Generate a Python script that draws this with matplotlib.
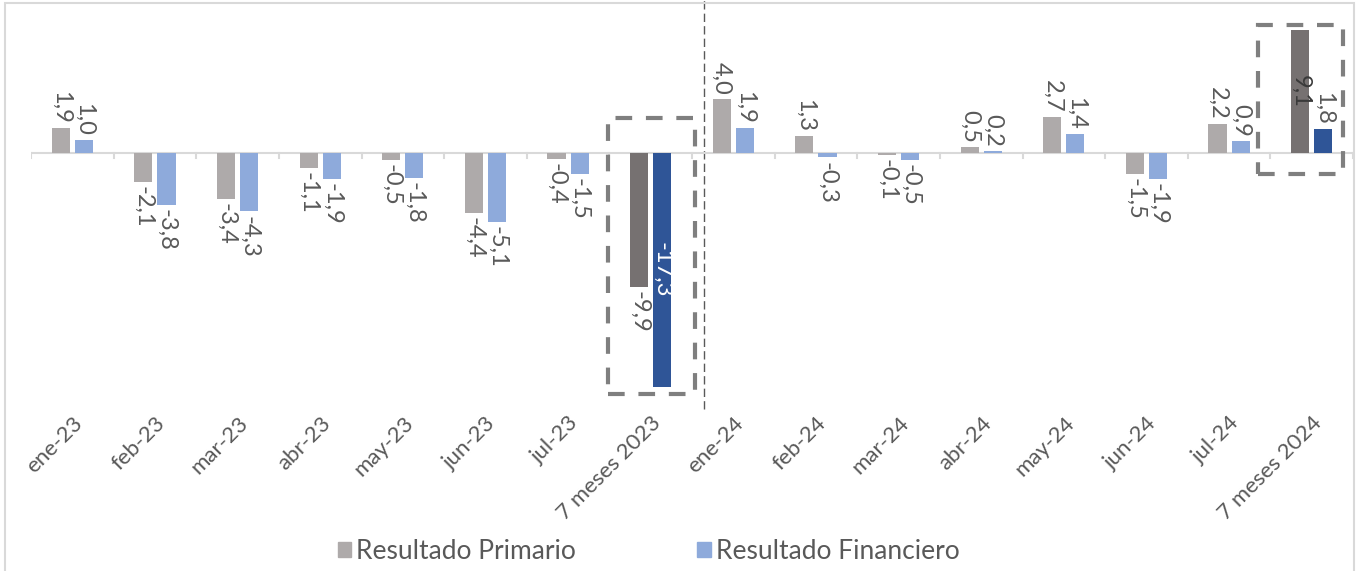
import matplotlib
matplotlib.use("Agg")
import matplotlib.pyplot as plt
from matplotlib.patches import Rectangle, Patch
import numpy as np

# datos (miles de millones)
categorias = ["ene-23", "feb-23", "mar-23", "abr-23", "may-23", "jun-23", "jul-23", "7 meses 2023",
              "ene-24", "feb-24", "mar-24", "abr-24", "may-24", "jun-24", "jul-24", "7 meses 2024"]
primario = [1.9, -2.1, -3.4, -1.1, -0.5, -4.4, -0.4, -9.9,
            4.0, 1.3, -0.1, 0.5, 2.7, -1.5, 2.2, 9.1]
financiero = [1.0, -3.8, -4.3, -1.9, -1.8, -5.1, -1.5, -17.3,
              1.9, -0.3, -0.5, 0.2, 1.4, -1.9, 0.9, 1.8]
acumulados = ["7 meses 2023", "7 meses 2024"]

col_prim = "#aeaaaa"
col_fin = "#8eaadb"
col_prim_osc = "#767171"
col_fin_osc = "#2f5597"
col_txt = "#595959"

plt.rcParams["font.family"] = ["Lato", "DejaVu Sans"]

fig = plt.figure(figsize=(13.6, 5.71), dpi=100)
ax = fig.add_axes([31 / 1360, 0.294, 1322 / 1360, 0.674])

x = np.arange(len(categorias))
w = 0.22
off = 0.14
fs_lab = 17

c_prim = [col_prim_osc if c in acumulados else col_prim for c in categorias]
c_fin = [col_fin_osc if c in acumulados else col_fin for c in categorias]

ax.bar(x - off, primario, w, color=c_prim, zorder=3)
ax.bar(x + off, financiero, w, color=c_fin, zorder=3)

ax.set_xlim(-0.5, len(categorias) - 0.5)
ax.set_ylim(-18.5, 10)

# eje cero con marcas
ax.axhline(0, color="#d9d9d9", lw=1.5, zorder=2)
for b in np.arange(-0.5, len(categorias) - 0.4, 1):
    ax.plot([b, b], [0, -0.35], color="#d9d9d9", lw=1.5, zorder=2)


def fmt(v):
    return f"{v:.1f}".replace(".", ",")


def etiqueta(xi, v, dentro=False, color=col_txt):
    if dentro:
        ax.text(xi, v / 2, fmt(v), rotation=270, ha="center", va="center",
                fontsize=fs_lab, color=color, zorder=4)
    elif v >= 0:
        ax.annotate(fmt(v), (xi, v), xytext=(0, 3), textcoords="offset points",
                    rotation=270, ha="center", va="bottom", fontsize=fs_lab, color=color)
    else:
        ax.annotate(fmt(v), (xi, v), xytext=(0, -3), textcoords="offset points",
                    rotation=270, ha="center", va="top", fontsize=fs_lab, color=color)


for i, c in enumerate(categorias):
    if c == "7 meses 2023":
        etiqueta(i - off, primario[i])
        etiqueta(i + off, financiero[i], dentro=True, color="white")
    elif c == "7 meses 2024":
        etiqueta(i - off, primario[i], dentro=True, color="#3a3a3a")
        etiqueta(i + off, financiero[i])
    else:
        etiqueta(i - off, primario[i])
        etiqueta(i + off, financiero[i])

# recuadros punteados en los acumulados
i23 = categorias.index("7 meses 2023")
i24 = categorias.index("7 meses 2024")
ax.add_patch(Rectangle((i23 - 0.515, -17.85), 1.055, 20.5, fill=False,
                       ec="#7f7f7f", lw=3, ls=(0, (4, 3.3)), zorder=5, clip_on=False))
ax.add_patch(Rectangle((i24 - 0.65, -1.56), 1.03, 11.04, fill=False,
                       ec="#7f7f7f", lw=3, ls=(0, (4, 3.3)), zorder=5, clip_on=False))

# separador 2023 / 2024
ax.plot([i23 + 0.64, i23 + 0.64], [-18.9, 11.4], color=col_txt, lw=1,
        ls=(0, (6, 3)), clip_on=False, zorder=1)

ax.set_xticks(x)
ax.set_xticklabels(categorias, rotation=45, ha="right", rotation_mode="anchor",
                   fontsize=16, color=col_txt)
ax.tick_params(axis="x", length=0, pad=7)
ax.set_yticks([])
for s in ax.spines.values():
    s.set_visible(False)

handles = [Patch(color=col_prim, label="Resultado Primario"),
           Patch(color=col_fin, label="Resultado Financiero")]
leg = fig.legend(handles=handles, loc="center", bbox_to_anchor=(0.477, 0.035), ncol=2,
                 frameon=False, fontsize=19, handlelength=0.5, handleheight=0.5,
                 handletextpad=0.2, columnspacing=4.6)
for t in leg.get_texts():
    t.set_color(col_txt)

fig.add_artist(Rectangle((5 / 1360, -0.1), 1349 / 1360, 1.1 - 3 / 571, transform=fig.transFigure,
                         fill=False, ec="#d9d9d9", lw=1.5))

fig.savefig("out.png", dpi=100)
